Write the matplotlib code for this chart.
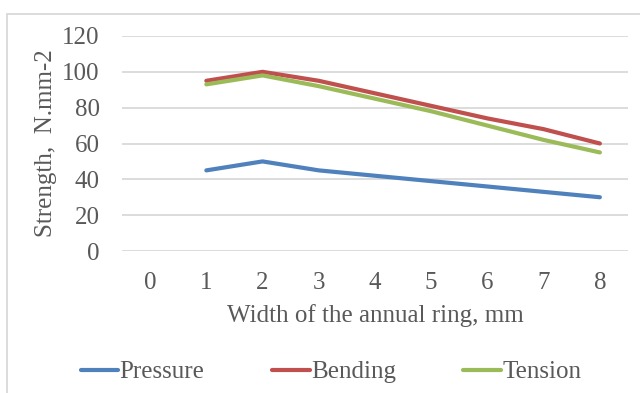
import numpy as np
import matplotlib
matplotlib.use("Agg")
from matplotlib import pyplot as plt
from matplotlib.patches import Rectangle

# Данные графика
categories = [0, 1, 2, 3, 4, 5, 6, 7, 8]
ringWidth = [1, 2, 3, 4, 5, 6, 7, 8]
pressure = [45, 50, 45, 42, 39, 36, 33, 30]
bending = [95, 100, 95, 88, 81, 74, 68, 60]
tension = [93, 98, 92, 85, 78, 70, 62, 55]
yTicks = [0, 20, 40, 60, 80, 100, 120]

W, H = 640, 393
textColor = '#595959'
fs = 18
plt.rcParams['font.family'] = ['Liberation Serif', 'DejaVu Serif']

fig = plt.figure(figsize=(W / 100, H / 100), dpi=100)
ax = fig.add_axes([122 / W, 1 - 251 / H, (628 - 122) / W, (251 - 36) / H])

# Рамка области диаграммы
fig.add_artist(Rectangle((7 / W, -0.2), 1.5, (1 - 14 / H) + 0.2,
                         transform=fig.transFigure, fill=False,
                         edgecolor='#D9D9D9', linewidth=1.3, clip_on=False))

ax.plot(ringWidth, pressure, color='#4F81BD', lw=3, label='Pressure',
        solid_capstyle='round')
ax.plot(ringWidth, bending, color='#C0504D', lw=3, label='Bending',
        solid_capstyle='round')
ax.plot(ringWidth, tension, color='#9BBB59', lw=3, label='Tension',
        solid_capstyle='round')

ax.set_xlim(-0.5, 8.5)
ax.set_ylim(0, 120)
ax.set_xticks(categories)
ax.set_yticks(yTicks)
ax.grid(axis='y', color='#D9D9D9', lw=1.3)
ax.set_axisbelow(True)
for s in ax.spines.values():
    s.set_visible(False)
ax.tick_params(length=0, labelsize=fs, labelcolor=textColor)
ax.tick_params(axis='y', pad=16)
ax.tick_params(axis='x', pad=15)

ax.set_ylabel('Strength,  N.mm-2', fontsize=fs, color=textColor, labelpad=4)
ax.set_xlabel('Width of the annual ring, mm', fontsize=fs, color=textColor,
              labelpad=7)

ax.legend(loc='center', bbox_to_anchor=(331 / W, 1 - 372 / H),
          bbox_transform=fig.transFigure, ncol=3, frameon=False,
          fontsize=fs, labelcolor=textColor, handlelength=1.5,
          handletextpad=0.05, columnspacing=2.7)

fig.savefig('out.png', dpi=100)
